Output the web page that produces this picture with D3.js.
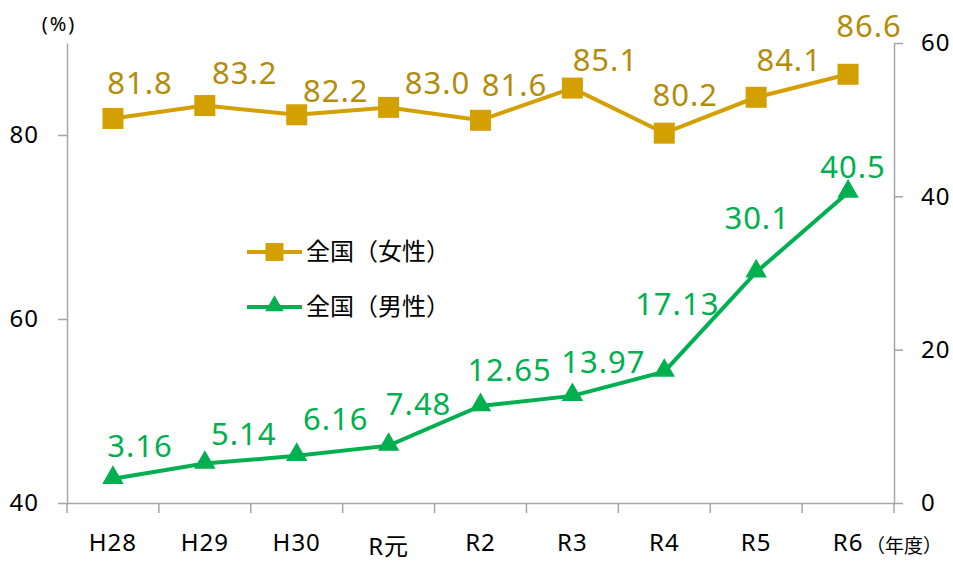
<!DOCTYPE html>
<html>
<head>
<meta charset="utf-8">
<script src="https://cdn.jsdelivr.net/npm/d3@7"></script>
<style>
  body { margin: 0; background: #fff; }
  text { font-family: "Noto Sans", "Noto Sans CJK JP", sans-serif; }
</style>
</head>
<body>
<div id="chart"></div>
<script>
// data
let years = ["H28", "H29", "H30", "R元", "R2", "R3", "R4", "R5", "R6"];
let female = [81.8, 83.2, 82.2, 83.0, 81.6, 85.1, 80.2, 84.1, 86.6];
let male = [3.16, 5.14, 6.16, 7.48, 12.65, 13.97, 17.13, 30.1, 40.5];
let femaleLabels = ["81.8", "83.2", "82.2", "83.0", "81.6", "85.1", "80.2", "84.1", "86.6"];
let maleLabels = ["3.16", "5.14", "6.16", "7.48", "12.65", "13.97", "17.13", "30.1", "40.5"];
let leftTicks = [40, 60, 80];
let rightTicks = [0, 20, 40, 60];
let seriesNames = ["全国（女性）", "全国（男性）"];

// hand placed label offsets (dx, dy from the point), like in the original
let femaleOff = [[27, -24], [40, -22], [39, -13], [49, -13], [34, -24], [33, -17], [21, -27], [33, -26], [21, -37]];
let maleOff = [[27, -22], [39, -19], [39, -26], [30, -31], [29, -25], [31, -23], [13, -57], [1, -43], [5, -15]];

let gold = "#D4A000", goldText = "#B38C0B", green = "#00B050";

// set the dimensions and margins of the graph
let W = 953, H = 563;
let margin = {top: 43, right: 59, bottom: 60, left: 67},
width = W - margin.left - margin.right,
height = H - margin.top - margin.bottom;

let svg = d3.select("#chart")
  .append("svg")
    .attr("width", W)
    .attr("height", H)
  .append("g")
    .attr("transform", `translate(${margin.left},${margin.top})`);

let x = d3.scaleBand()
    .domain(years)
    .range([0, width]);

let yL = d3.scaleLinear()
    .domain([40, 90])
    .range([height, 0]);

let yR = d3.scaleLinear()
    .domain([0, 60])
    .range([height, 0]);

let axisColor = "#a6a6a6";

// left axis
let gl = svg.append("g")
    .call(d3.axisLeft(yL).tickValues(leftTicks).tickSize(9).tickSizeOuter(0).tickPadding(19));
// right axis
let gr = svg.append("g")
    .attr("transform", `translate(${width},0)`)
    .call(d3.axisRight(yR).tickValues(rightTicks).tickSize(9).tickSizeOuter(0).tickPadding(18));

// bottom axis: labels at the band centres, ticks at the band edges
let gb = svg.append("g")
    .attr("transform", `translate(0,${height})`)
    .call(d3.axisBottom(x).tickSize(0).tickPadding(31));

let edges = d3.range(years.length + 1).map(i => i * x.step());
gb.selectAll(".edge")
  .data(edges)
  .enter().append("line")
    .attr("class", "edge")
    .attr("x1", d => d).attr("x2", d => d)
    .attr("y1", 0).attr("y2", 10)
    .attr("stroke", axisColor)
    .attr("stroke-width", 1.5);

[gl, gr, gb].forEach(g => {
  g.selectAll(".domain").attr("stroke", axisColor).attr("stroke-width", 1.5);
  g.selectAll(".tick line").attr("stroke", axisColor).attr("stroke-width", 1.5);
  g.selectAll(".tick text")
    .attr("fill", "#000")
    .style("font-size", "24px")
    .style("letter-spacing", "1px")
    .style("font-family", "'Noto Sans', 'Noto Sans CJK JP', sans-serif");
});
// the 元 label sits a little lower in the original
gb.selectAll(".tick text").filter(d => /元/.test(d)).attr("dy", "0.86em");

// unit labels
svg.append("text")
    .attr("x", 59 - margin.left)
    .attr("y", 31 - margin.top)
    .attr("text-anchor", "middle")
    .style("font-size", "20px")
    .style("letter-spacing", "2px")
    .text("(%)");

svg.append("text")
    .attr("x", 904 - margin.left)
    .attr("y", 553 - margin.top)
    .attr("text-anchor", "middle")
    .style("font-size", "19px")
    .text("（年度）");

let cx = (d, i) => x(years[i]) + x.bandwidth() / 2;

// female line (left axis)
let lineF = d3.line()
    .x((d, i) => cx(d, i))
    .y(d => yL(d));

svg.append("path")
    .datum(female)
    .attr("d", lineF)
    .attr("fill", "none")
    .attr("stroke", gold)
    .attr("stroke-width", 4);

let sq = 21;
svg.selectAll(".sq")
  .data(female)
  .enter().append("rect")
    .attr("x", (d, i) => cx(d, i) - sq / 2)
    .attr("y", d => yL(d) - sq / 2)
    .attr("width", sq)
    .attr("height", sq)
    .attr("fill", gold);

svg.selectAll(".flab")
  .data(female)
  .enter().append("text")
    .attr("x", (d, i) => cx(d, i) + femaleOff[i][0])
    .attr("y", (d, i) => yL(d) + femaleOff[i][1])
    .attr("text-anchor", "middle")
    .attr("fill", goldText)
    .style("font-size", "31px")
    .style("letter-spacing", "1px")
    .text((d, i) => femaleLabels[i]);

// male line (right axis)
let lineM = d3.line()
    .x((d, i) => cx(d, i))
    .y(d => yR(d));

svg.append("path")
    .datum(male)
    .attr("d", lineM)
    .attr("fill", "none")
    .attr("stroke", green)
    .attr("stroke-width", 4);

let tri = d3.symbol().type(d3.symbolTriangle).size(200);
svg.selectAll(".tri")
  .data(male)
  .enter().append("path")
    .attr("d", tri)
    .attr("transform", (d, i) => `translate(${cx(d, i)},${yR(d) - 1})`)
    .attr("fill", green);

svg.selectAll(".mlab")
  .data(male)
  .enter().append("text")
    .attr("x", (d, i) => cx(d, i) + maleOff[i][0])
    .attr("y", (d, i) => yR(d) + maleOff[i][1])
    .attr("text-anchor", "middle")
    .attr("fill", green)
    .style("font-size", "31px")
    .style("letter-spacing", "1px")
    .text((d, i) => maleLabels[i]);

// legend
let legend = svg.append("g")
    .attr("transform", `translate(${247 - margin.left},${252 - margin.top})`);

seriesNames.forEach((name, i) => {
  let g = legend.append("g").attr("transform", `translate(0,${i * 55})`);
  let c = i === 0 ? gold : green;
  g.append("line")
      .attr("x1", 0).attr("x2", 55)
      .attr("stroke", c)
      .attr("stroke-width", 4);
  if (i === 0) {
    g.append("rect")
        .attr("x", 27.5 - 9).attr("y", -9)
        .attr("width", 18).attr("height", 18)
        .attr("fill", c);
  } else {
    g.append("path")
        .attr("d", d3.symbol().type(d3.symbolTriangle).size(150))
        .attr("transform", "translate(27.5,-1)")
        .attr("fill", c);
  }
  g.append("text")
      .attr("x", 59)
      .attr("y", 0)
      .attr("dy", "0.35em")
      .style("font-size", "24px")
      .text(name);
});
</script>
</body>
</html>
